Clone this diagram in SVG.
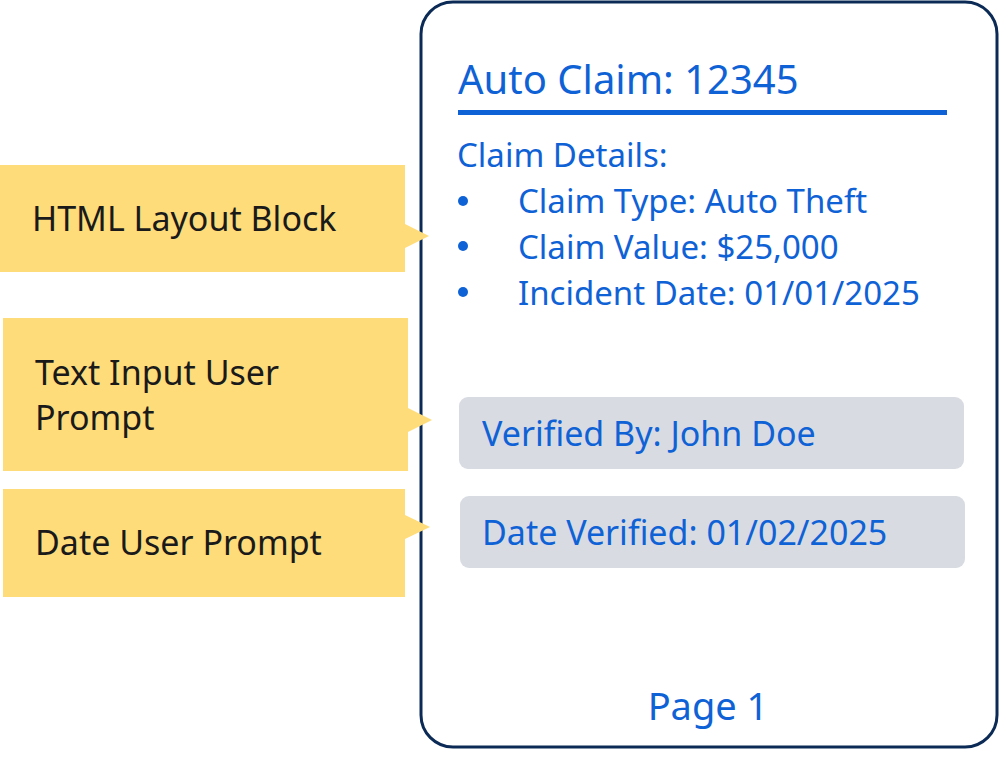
<svg xmlns="http://www.w3.org/2000/svg" width="999" height="758" viewBox="0 0 999 758">
<style>
.c{fill:#fedc7a}
.ct{font-family:"Noto Sans","Liberation Sans",sans-serif;font-size:34px;fill:#1a1a1a}
.b{font-family:"Noto Sans","Liberation Sans",sans-serif;fill:#0f62d6}
.pill{fill:#d8dbe2}
</style>
<rect width="999" height="758" fill="#fff"/>
<g id="card">
<rect x="421" y="2" width="576" height="745" rx="32" fill="#fff" stroke="#0b2a55" stroke-width="3"/>
<text class="b" x="458" y="94" font-size="40">Auto Claim: 12345</text>
<rect x="458" y="110" width="489" height="5" fill="#0f62d6"/>
<text class="b" x="457" y="167" font-size="33">Claim Details:</text>
<circle cx="463" cy="201" r="5" fill="#0f62d6"/>
<circle cx="463" cy="246" r="5" fill="#0f62d6"/>
<circle cx="463" cy="292" r="5" fill="#0f62d6"/>
<text class="b" x="518" y="213" font-size="33">Claim Type: Auto Theft</text>
<text class="b" x="518" y="259" font-size="33">Claim Value: $25,000</text>
<text class="b" x="518" y="305" font-size="33">Incident Date: 01/01/2025</text>
<text class="b" x="708" y="720" font-size="38" text-anchor="middle">Page 1</text>
</g>
<g id="verified">
<rect class="pill" x="459" y="397" width="505" height="72" rx="9"/>
<text class="b" x="482" y="446" font-size="34">Verified By: John Doe</text>
</g>
<g id="dateverified">
<rect class="pill" x="460" y="496" width="505" height="72" rx="9"/>
<text class="b" x="482" y="545" font-size="34">Date Verified: 01/02/2025</text>
</g>
<g id="callout-html">
<rect class="c" x="0" y="165" width="405" height="107"/>
<polygon class="c" points="405,224 429,236 405,248"/>
<text class="ct" x="32" y="231">HTML Layout Block</text>
</g>
<g id="callout-text">
<rect class="c" x="3" y="318" width="405" height="153"/>
<polygon class="c" points="408,408 432,420 408,432"/>
<text class="ct" x="35" y="385">Text Input User</text>
<text class="ct" x="35" y="430">Prompt</text>
</g>
<g id="callout-date">
<rect class="c" x="3" y="489" width="402" height="108"/>
<polygon class="c" points="405,515 430,527 405,539"/>
<text class="ct" x="35" y="555">Date User Prompt</text>
</g>
<g id="connectors"></g>
</svg>
